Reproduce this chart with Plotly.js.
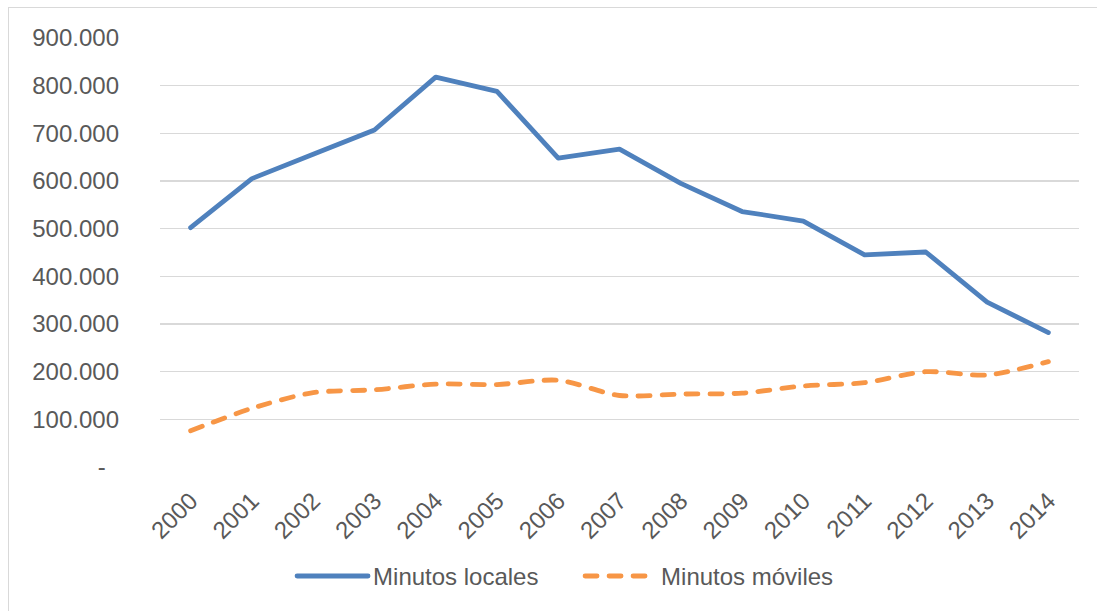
<!DOCTYPE html>
<html>
<head>
<meta charset="utf-8">
<script src="https://cdn.plot.ly/plotly-3.0.1.min.js"></script>
<style>
  html, body { margin: 0; padding: 0; background: #ffffff; overflow: hidden; }
  #wrap { position: relative; width: 1097px; height: 611px; }
  #chart { position: absolute; left: 0; top: 0; width: 1097px; height: 611px; }
  #frame { position: absolute; left: 8px; top: 7px; width: 1200px; height: 700px;
           border: 1px solid #d9d9d9; pointer-events: none; box-sizing: border-box; }
  .legend .js-line { stroke-linecap: round; }
  .scatterlayer .js-line { stroke-linecap: round; stroke-linejoin: round; }
</style>
</head>
<body>
<div id="wrap">
  <div id="chart"></div>
  <div id="frame"></div>
</div>
<script>
// ---- data ----
const years = ['2000','2001','2002','2003','2004','2005','2006','2007','2008','2009','2010','2011','2012','2013','2014'];
const minutosLocales = [502000, 605000, 656000, 707000, 818000, 788000, 648000, 667000, 595000, 536000, 516000, 445000, 451000, 346000, 282000];
const minutosMoviles = [76000, 123000, 156000, 162000, 174000, 173000, 182000, 150000, 153000, 155000, 170000, 177000, 200000, 193000, 221000];
const yTickValues = [0, 100000, 200000, 300000, 400000, 500000, 600000, 700000, 800000, 900000];
const yTickLabels = ['-\u00a0\u00a0', '100.000', '200.000', '300.000', '400.000', '500.000', '600.000', '700.000', '800.000', '900.000'];
const seriesNames = ['Minutos locales', 'Minutos móviles'];

const textColor = '#595959';
const fontFamily = '"Liberation Sans", Arial, sans-serif';

const traces = [
  {
    x: years, y: minutosLocales, name: seriesNames[0], type: 'scatter', mode: 'lines',
    line: { color: '#4F81BD', width: 4.8 }
  },
  {
    x: years, y: minutosMoviles, name: seriesNames[1], type: 'scatter', mode: 'lines',
    line: { color: '#F79646', width: 4.8, dash: '12px,12px', shape: 'spline', smoothing: 0.8 }
  }
];

const layout = {
  width: 1097, height: 611,
  margin: { l: 160, r: 18.3, t: 37.5, b: 143.7 },
  paper_bgcolor: 'rgba(0,0,0,0)',
  plot_bgcolor: 'rgba(0,0,0,0)',
  font: { family: fontFamily, size: 24, color: textColor },
  showlegend: true,
  hovermode: false,
  xaxis: {
    type: 'category',
    range: [-0.5, 14.5],
    showgrid: false, zeroline: false, showline: false,
    ticks: '', tickangle: -45,
    ticklabelstandoff: 14,
    tickfont: { size: 24, color: textColor, family: fontFamily }
  },
  yaxis: {
    range: [0, 900000],
    tickvals: yTickValues, ticktext: yTickLabels,
    showgrid: true, gridcolor: '#d9d9d9', gridwidth: 1.2,
    zeroline: false, showline: false, ticks: '',
    ticklabelstandoff: 40,
    tickfont: { size: 24, color: textColor, family: fontFamily }
  },
  legend: {
    orientation: 'h',
    x: 0.1437, xanchor: 'left',
    y: -0.255, yanchor: 'middle',
    itemwidth: 71,
    entrywidth: 202, entrywidthmode: 'pixels',
    font: { size: 24, color: textColor, family: fontFamily },
    bgcolor: 'rgba(0,0,0,0)'
  }
};

Plotly.newPlot('chart', traces, layout, { staticPlot: true, displayModeBar: false }).then(function () {
  document.querySelectorAll('.legend .js-line').forEach(function (p) {
    p.setAttribute('d', 'M5,0h71');
  });
});
</script>
</body>
</html>
